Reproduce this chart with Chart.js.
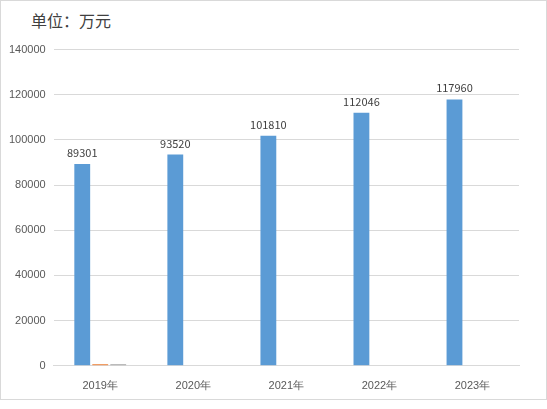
<!DOCTYPE html>
<html><head><meta charset="utf-8">
<script src="https://cdn.jsdelivr.net/npm/chart.js@4"></script>
<style>
body{margin:0;background:#fff;font-family:"Noto Sans CJK SC",sans-serif}
#wrap{position:absolute;left:0;top:0;width:545px;height:398px;border:1px solid #d9d9d9}
#title{position:absolute;left:30px;top:7px;font-size:16px;color:#404040}
#box{position:absolute;left:0;top:34px;width:540px;height:364px}
</style></head><body>
<div id="wrap"><div id="title">单位：万元</div><div id="box"><canvas id="c"></canvas></div></div>
<script>
const years = ['2019年', '2020年', '2021年', '2022年', '2023年'];
const seriesA = [89301, 93520, 101810, 112046, 117960];
const seriesB = [700, 0, 0, 0, 0];
const seriesC = [700, 0, 0, 0, 0];

const labelPlugin = {
    id: 'labels',
    afterDatasetsDraw(chart) {
        const ctx = chart.ctx;
        const meta = chart.getDatasetMeta(0);
        ctx.save();
        ctx.font = '11px "Noto Sans CJK SC", sans-serif';
        ctx.fillStyle = '#404040';
        ctx.textAlign = 'center';
        meta.data.forEach((bar, i) => ctx.fillText(seriesA[i], bar.x, bar.y - 7));
        ctx.restore();
    }
};

new Chart(document.getElementById('c'), {
    type: 'bar',
    data: {
        labels: years,
        datasets: [
            { data: seriesA, backgroundColor: '#5b9bd5' },
            { data: seriesB, backgroundColor: '#ed7d31' },
            { data: seriesC, backgroundColor: '#a5a5a5' }
        ]
    },
    options: {
        responsive: true, maintainAspectRatio: false, animation: false,
        layout: { padding: { left: 0, right: 22, top: 12, bottom: 0 } },
        categoryPercentage: 0.58, barPercentage: 0.88,
        plugins: { legend: { display: false }, tooltip: { enabled: false } },
        scales: {
            x: { grid: { display: false }, border: { color: '#d9d9d9' },
                 ticks: { color: '#595959', font: { size: 11 }, padding: 6 } },
            y: { min: 0, max: 140000,
                 ticks: { stepSize: 20000, color: '#595959', font: { size: 11 }, padding: 8, callback: v => String(v) },
                 grid: { color: '#d9d9d9', drawTicks: false }, border: { display: false } }
        }
    },
    plugins: [labelPlugin]
});
</script>
</body></html>
